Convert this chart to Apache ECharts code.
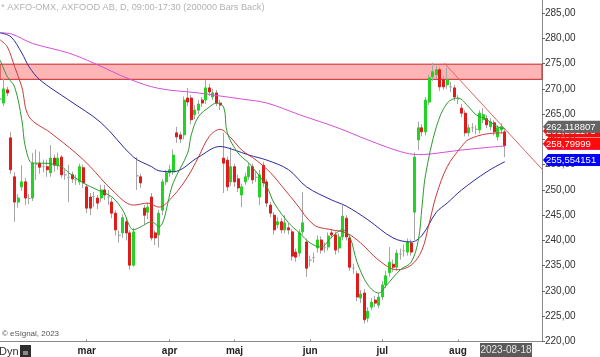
<!DOCTYPE html>
<html><head><meta charset="utf-8">
<script src="https://cdn.jsdelivr.net/npm/echarts@6/dist/echarts.min.js"></script>
<style>html,body{margin:0;padding:0;background:#fff}#c{width:600px;height:357px}</style>
</head><body><div id="c"></div>
<script>
// ---- data ----
const monthIdx = [24, 47, 65, 86, 106, 127];
const monthLabels = ['mar', 'apr', 'maj', 'jun', 'jul', 'aug'];
const yTicks = [220, 225, 230, 235, 240, 245, 250, 255, 260, 265, 270, 275, 280, 285];

const open = [268.0,267.2,269.8,260.3,252.6,247.6,250.6,251.6,248.3,248.4,255.1,255.3,254.6,254.6,253.4,256.3,254.9,256.5,253.0,252.5,
253.0,252.0,251.6,254.4,250.6,248.6,248.7,248.4,248.4,250.0,248.6,247.6,245.4,241.0,241.5,243.7,241.5,235.1,252.8,252.6,
246.4,245.6,248.6,241.5,241.1,246.0,251.6,253.4,253.6,261.3,260.9,260.9,268.2,268.2,264.9,265.8,267.8,267.8,270.2,268.4,
269.2,267.2,256.3,255.9,251.6,254.6,252.2,249.0,251.6,252.6,254.6,252.5,248.6,254.9,251.6,247.0,245.0,243.1,243.7,242.1,
242.5,241.7,237.7,237.5,241.7,239.7,236.1,236.6,238.5,240.1,238.6,238.7,241.5,241.1,238.5,240.7,244.4,240.5,234.5,233.4,
228.6,229.6,224.6,226.8,228.2,227.2,228.8,231.2,233.6,235.3,234.7,237.3,238.0,237.7,239.5,245.6,259.9,262.3,261.5,267.4,
272.4,272.8,273.8,271.8,270.8,270.4,270.2,268.0,266.2,265.2,261.3,262.3,262.0,261.9,263.9,264.1,262.5,263.3,260.5,261.9,261.5];
const close = [268.0,270.0,269.2,254.0,247.6,248.4,251.6,248.4,248.3,255.3,255.1,254.5,254.6,254.0,256.3,254.9,256.3,253.0,253.0,252.5,
252.2,252.0,254.6,251.4,246.4,246.4,248.7,247.4,250.0,249.0,248.6,245.4,242.1,241.0,244.5,241.5,235.1,241.7,252.8,251.4,
245.0,246.6,240.5,240.5,245.4,251.6,253.4,254.0,256.9,260.5,260.1,267.8,267.4,263.9,265.8,267.0,267.2,270.2,269.4,269.2,
267.2,266.8,255.3,250.6,254.6,251.6,250.4,250.6,252.6,254.6,252.0,252.5,253.0,251.4,247.4,245.4,242.1,243.7,242.1,243.5,
242.1,236.9,236.7,241.5,243.5,234.5,236.1,236.6,240.1,238.1,238.6,240.9,241.1,238.1,240.7,244.8,240.7,234.7,234.5,228.8,
229.4,224.3,226.0,227.8,227.6,228.8,231.2,233.0,235.7,234.7,237.5,237.3,238.0,239.7,237.7,256.5,262.3,261.5,267.8,272.2,
273.4,273.8,270.4,270.4,271.8,270.4,268.4,268.0,265.2,261.3,262.3,262.3,262.0,265.2,264.9,262.9,263.5,261.5,262.3,262.5,258.8];
const low = [267.0,266.6,268.6,253.2,243.7,246.5,249.8,247.0,247.2,247.8,252.0,253.2,253.5,252.6,252.6,253.6,254.0,252.4,252.0,247.6,
251.4,251.0,251.0,250.4,245.4,245.0,246.6,246.2,247.6,248.0,247.0,244.4,241.0,239.6,240.5,240.0,234.2,234.8,250.0,250.4,
243.2,244.2,240.0,239.1,238.6,245.0,251.0,252.6,253.0,259.3,259.3,260.0,266.6,263.0,264.0,265.0,266.4,267.0,268.6,267.8,
266.6,265.8,249.4,249.8,250.8,250.6,249.6,246.6,251.0,252.0,251.2,251.6,247.0,250.6,246.6,244.6,241.2,242.4,241.4,241.4,
241.2,236.0,235.8,236.8,241.0,232.8,234.8,235.6,237.6,237.4,237.6,238.0,240.4,237.2,237.6,240.0,240.0,234.0,233.4,228.0,
227.6,223.6,223.8,226.2,226.8,226.6,228.2,230.6,232.8,233.8,234.0,236.2,236.8,237.0,237.0,240.1,257.9,260.6,260.8,266.8,
271.6,272.0,269.6,269.8,270.0,269.4,267.6,267.0,264.4,260.6,260.6,261.4,261.0,261.2,263.2,262.2,261.8,260.8,259.8,261.2,256.5];
const high = [268.8,272.2,270.4,261.5,253.5,249.2,254.9,252.4,249.2,257.3,258.0,257.6,256.0,256.0,258.9,257.0,257.4,256.9,254.0,255.0,
253.6,253.0,255.2,255.0,251.2,249.4,249.6,249.0,251.0,251.0,250.0,248.4,246.0,242.0,245.2,244.5,242.0,242.5,256.5,253.2,
247.0,247.4,249.4,242.0,246.0,252.2,254.0,255.0,258.0,262.5,261.5,268.5,270.2,268.8,266.8,267.8,268.4,271.8,271.0,270.0,
269.8,267.8,261.3,256.6,258.5,255.2,253.0,251.2,253.4,255.4,255.2,253.6,254.0,255.6,252.2,247.6,245.6,244.6,244.4,245.0,
243.4,242.2,238.4,242.2,249.6,240.4,237.0,237.6,241.0,240.8,239.6,241.6,242.2,241.8,241.4,247.0,245.0,241.0,235.4,234.0,
230.2,230.4,226.8,228.6,229.0,229.6,232.0,234.0,238.7,236.2,238.2,238.4,239.2,240.4,240.2,257.4,263.5,263.0,268.4,272.8,
275.2,274.6,274.4,272.6,274.2,271.4,270.8,268.8,267.0,265.8,263.0,263.2,262.8,265.8,266.2,264.8,264.2,263.8,262.8,263.2,262.0];

// moving averages: [bar index, value]
const maGreen = [[0,275.7],[2,272.4],[4,270.4],[6,263.9],[7,258.5],[9,255.3],[12,255.3],[17,254.6],[19,253.4],[23,251.4],[27,250.0],
[31,248.6],[34,246.0],[37,242.1],[39,242.7],[42,243.7],[44,242.7],[48,251.4],[52,257.3],[53,260.9],[55,264.5],[58,266.4],[60,267.2],
[62,266.4],[63,261.3],[66,257.3],[69,255.3],[71,253.6],[74,250.6],[76,247.4],[80,243.5],[83,241.5],[86,239.5],[89,238.7],[92,240.7],
[95,242.1],[97,240.7],[99,235.7],[102,231.2],[105,229.6],[107,231.0],[111,234.2],[114,235.7],[116,240.1],[117,246.6],[118,253.0],
[121,262.5],[124,267.2],[127,268.2],[130,266.4],[132,264.9],[135,263.9],[138,262.5],[140,262.1]];
const maRed = [[0,279.7],[2,278.3],[4,274.4],[6,270.4],[8,264.5],[14,261.3],[21,257.3],[25,254.6],[31,250.0],[37,247.0],[41,247.4],
[44,246.6],[48,248.8],[52,252.6],[55,256.5],[58,260.6],[61,262.0],[64,260.3],[67,257.9],[71,255.9],[75,253.4],[79,250.0],[82,247.4],
[87,243.1],[92,242.1],[96,241.5],[100,239.5],[105,236.1],[110,234.2],[114,235.1],[117,238.1],[119,243.4],[121,249.0],[124,254.6],
[128,258.6],[130,260.0],[135,261.1],[140,261.3]];
const maBlue = [[0,281.1],[3,280.3],[6,277.1],[8,274.4],[11,271.8],[19,267.8],[28,263.3],[37,256.5],[42,254.6],[44,253.8],[48,253.6],
[55,256.5],[61,258.6],[65,257.9],[69,256.9],[74,255.9],[80,254.0],[85,250.6],[92,248.0],[96,246.8],[102,244.1],[109,240.5],[114,239.7],
[117,241.0],[121,245.6],[124,247.4],[128,250.0],[135,253.6],[140,255.6]];
const maMagenta = [[0,281.1],[3,280.9],[9,279.0],[19,277.1],[26,275.1],[36,271.9],[44,270.1],[55,269.2],[61,268.6],[67,268.0],[74,267.2],
[83,264.9],[94,262.2],[102,259.9],[111,257.6],[116,257.0],[119,257.1],[128,257.9],[135,258.4],[140,258.7]];

const trendLine = [[123.2, 275.1], [150.3, 254.1]];
const band = [271.9, 274.9];

const tagValues = [261.281173, 262.118807, 258.70, 258.79999, 255.554151];
const tagTexts = ['261,281173', '262,118807', '258,698512', '258,79999', '255,554151'];
const tagColors = ['#f01010', '#646464', '#e030e0', '#ff0a0a', '#0000ff'];

// ---- chart ----
const chart = echarts.init(document.getElementById('c'));
const FONT = '"Liberation Sans", Arial, sans-serif';
const wickData = open.map((o, i) => [i, o, close[i], low[i], high[i]]);
const bodyData = open.map((o, i) => [i, o, close[i], Math.min(o, close[i]), Math.max(o, close[i])]);
const GREEN = '#22d422', RED = '#e01b1b', GRAY = '#a6a6a6';

function maSeries(data, color) {
  return { type: 'line', data: data, smooth: 0.35, symbol: 'none', silent: true,
    lineStyle: { width: 1, color: color }, z: 4 };
}

chart.setOption({
  animation: false,
  backgroundColor: '#ffffff',
  grid: { left: 0, right: 58, top: 0, bottom: 15.5 },
  xAxis: {
    type: 'value', min: -0.05, max: 150.3,
    axisLine: { onZero: false, lineStyle: { color: '#8a8a8a' } },
    splitLine: { show: false },
    axisTick: { customValues: monthIdx, inside: true, length: 2, lineStyle: { color: '#8a8a8a' } },
    axisLabel: { customValues: monthIdx, formatter: v => { const k = monthIdx.indexOf(v); return k >= 0 ? monthLabels[k] : ''; },
      color: '#222', fontSize: 10, fontWeight: 'bold', fontFamily: FONT, margin: 5 }
  },
  yAxis: {
    type: 'value', position: 'right', min: 220, max: 287.6,
    axisLine: { show: true, onZero: false, lineStyle: { color: '#8a8a8a' } },
    splitLine: { show: false },
    axisTick: { show: true, customValues: yTicks, length: 3, lineStyle: { color: '#666' } },
    axisLabel: { customValues: yTicks, formatter: v => v.toFixed(2).replace('.', ','), color: '#333', fontSize: 10, fontFamily: FONT, margin: 3 }
  },
  series: [
    { type: 'candlestick', data: wickData, barWidth: 1, silent: true, z: 2,
      itemStyle: { color: GRAY, color0: GRAY, borderColor: GRAY, borderColor0: GRAY, borderColorDoji: GRAY, borderWidth: 1 },
      markArea: { silent: true, itemStyle: { color: 'rgba(255,0,0,0.29)', borderColor: '#c82020', borderWidth: 1 },
        data: [[{ yAxis: band[0] }, { yAxis: band[1] }]] } },
    { type: 'candlestick', data: bodyData, barWidth: 2.5, silent: true, z: 3,
      itemStyle: { color: GREEN, color0: RED, borderColor: GREEN, borderColor0: RED, borderColorDoji: GRAY, borderWidth: 1 } },
    maSeries(maMagenta, '#d64fd6'),
    maSeries(maBlue, '#2b2b9c'),
    maSeries(maRed, '#cc3a3a'),
    maSeries(maGreen, '#2e9a2e'),
    { type: 'line', data: trendLine, symbol: 'none', silent: true, z: 5, lineStyle: { width: 1, color: '#e06464' } }
  ]
});

const g = [];
g.push({ type: 'text', x: 1, y: 3, z: 100, style: { text: '* AXFO-OMX, AXFOOD AB, D, 09:00-17:30 (200000 Bars Back)', fill: '#b2b2b2', font: '9.2px ' + FONT } });
g.push({ type: 'text', x: 2, y: 330, z: 100, style: { text: '\u00a9 eSignal, 2023', fill: '#555', font: '8px ' + FONT } });
g.push({ type: 'rect', z: 100, shape: { x: 543, y: 346, width: 57, height: 11 }, style: { fill: '#fff' } });
g.push({ type: 'text', x: -1, y: 346, z: 100, style: { text: 'Dyn', fill: '#333', font: '11px ' + FONT } });
g.push({ type: 'rect', z: 100, shape: { x: 20, y: 345, width: 11, height: 12 }, style: { fill: '#2e2e2e' } });
g.push({ type: 'rect', z: 101, shape: { x: 23, y: 351, width: 5, height: 4 }, style: { fill: '#8a8a8a' } });
g.push({ type: 'rect', z: 100, shape: { x: 480, y: 343, width: 52, height: 14 }, style: { fill: '#5a5a5a' } });
g.push({ type: 'text', x: 506, y: 350, z: 101, style: { text: '2023-08-18', fill: '#e6e6e6', font: '10px ' + FONT, align: 'center', verticalAlign: 'middle' } });
tagValues.forEach((v, i) => {
  const y = chart.convertToPixel({ yAxisIndex: 0 }, v) - 2;
  g.push({ type: 'polygon', z: 110 + i * 2, shape: { points: [[543, y], [548, y - 6], [600, y - 6], [600, y + 6], [548, y + 6]] }, style: { fill: tagColors[i] } });
  g.push({ type: 'text', x: 546, y: y + 0.5, z: 111 + i * 2, style: { text: tagTexts[i], fill: '#fff', font: '9.5px ' + FONT, verticalAlign: 'middle' } });
});
chart.setOption({ graphic: g });
</script></body></html>
